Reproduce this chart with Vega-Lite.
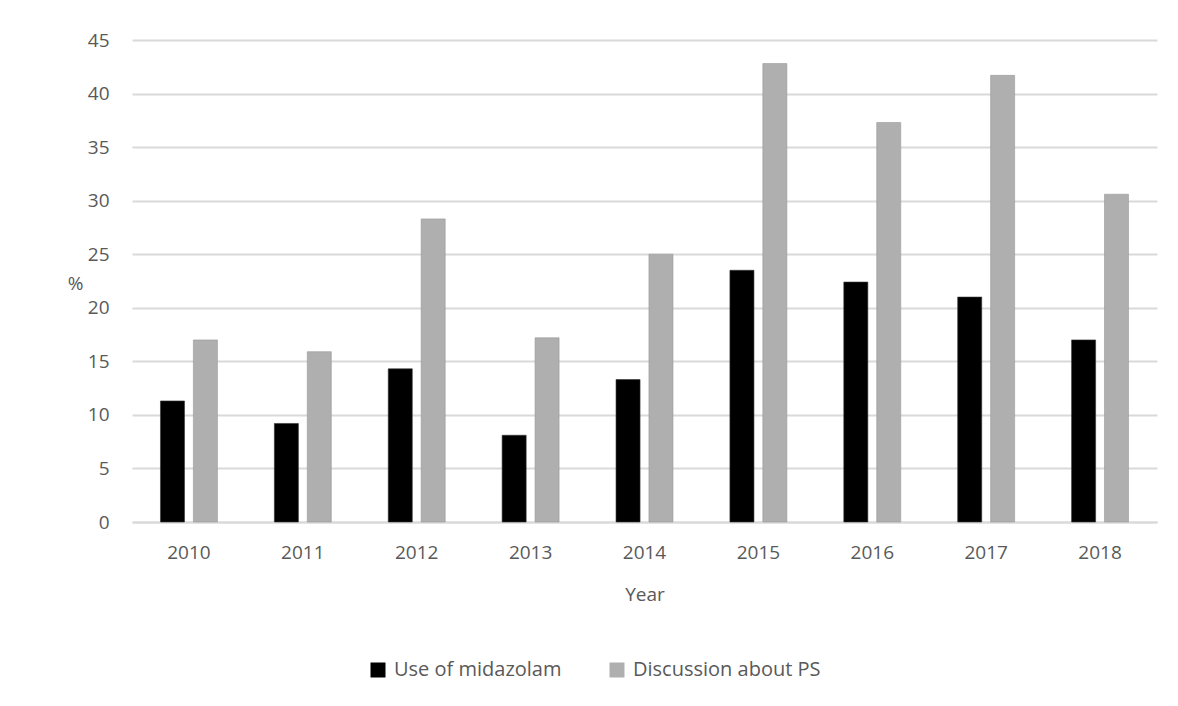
{
  "$schema": "https://vega.github.io/schema/vega-lite/v6.json",
  "width": 1025,
  "height": 482,
  "autosize": {"type": "none"},
  "padding": {"left": 132, "top": 40, "right": 21, "bottom": 184},
  "background": "white",
  "config": {
    "view": {"stroke": null},
    "font": "Open Sans"
  },
  "data": {
    "values": [
      {"year": "2010", "series": "Use of midazolam", "value": 11.3},
      {"year": "2010", "series": "Discussion about PS", "value": 17.0},
      {"year": "2011", "series": "Use of midazolam", "value": 9.2},
      {"year": "2011", "series": "Discussion about PS", "value": 15.9},
      {"year": "2012", "series": "Use of midazolam", "value": 14.3},
      {"year": "2012", "series": "Discussion about PS", "value": 28.3},
      {"year": "2013", "series": "Use of midazolam", "value": 8.1},
      {"year": "2013", "series": "Discussion about PS", "value": 17.2},
      {"year": "2014", "series": "Use of midazolam", "value": 13.3},
      {"year": "2014", "series": "Discussion about PS", "value": 25.0},
      {"year": "2015", "series": "Use of midazolam", "value": 23.5},
      {"year": "2015", "series": "Discussion about PS", "value": 42.8},
      {"year": "2016", "series": "Use of midazolam", "value": 22.4},
      {"year": "2016", "series": "Discussion about PS", "value": 37.3},
      {"year": "2017", "series": "Use of midazolam", "value": 21.0},
      {"year": "2017", "series": "Discussion about PS", "value": 41.7},
      {"year": "2018", "series": "Use of midazolam", "value": 17.0},
      {"year": "2018", "series": "Discussion about PS", "value": 30.6}
    ]
  },
  "mark": {"type": "bar", "strokeWidth": 1, "strokeOpacity": 0.6},
  "encoding": {
    "x": {
      "field": "year",
      "type": "nominal",
      "scale": {"paddingInner": 0.5, "paddingOuter": 0.25},
      "axis": {
        "title": "Year",
        "labelAngle": 0,
        "labelFontSize": 19,
        "labelColor": "#595959",
        "labelPadding": 21,
        "titleFontSize": 19,
        "titleFontWeight": "normal",
        "titleColor": "#595959",
        "titlePadding": 23,
        "ticks": false,
        "domain": true,
        "domainColor": "#d9d9d9",
        "domainWidth": 2
      }
    },
    "xOffset": {
      "field": "series",
      "type": "nominal",
      "sort": ["Use of midazolam", "Discussion about PS"],
      "scale": {"paddingInner": 0.27, "paddingOuter": 0}
    },
    "y": {
      "field": "value",
      "type": "quantitative",
      "scale": {"domain": [0, 45], "nice": false},
      "axis": {
        "title": "%",
        "titleAngle": 0,
        "titleX": -57,
        "titleY": 243,
        "titleAlign": "center",
        "titleBaseline": "middle",
        "titleFontSize": 19,
        "titleFontWeight": "normal",
        "titleColor": "#595959",
        "values": [0, 5, 10, 15, 20, 25, 30, 35, 40, 45],
        "labelFontSize": 19,
        "labelColor": "#595959",
        "labelPadding": 23,
        "ticks": false,
        "domain": false,
        "grid": true,
        "gridColor": "#d9d9d9",
        "gridWidth": 2
      }
    },
    "color": {
      "field": "series",
      "type": "nominal",
      "sort": ["Use of midazolam", "Discussion about PS"],
      "scale": {"domain": ["Use of midazolam", "Discussion about PS"], "range": ["#000000", "#afafaf"]},
      "legend": {
        "title": null,
        "orient": "none",
        "direction": "horizontal",
        "legendX": 236,
        "legendY": 620,
        "symbolType": "square",
        "symbolSize": 225,
        "symbolStrokeWidth": 0,
        "labelFontSize": 20,
        "labelLimit": 400,
        "labelColor": "#595959",
        "labelOffset": 6,
        "columnPadding": 45
      }
    },
    "stroke": {
      "field": "series",
      "type": "nominal",
      "scale": {"domain": ["Use of midazolam", "Discussion about PS"], "range": ["#333333", "#9a9a9a"]},
      "legend": null
    }
  }
}
